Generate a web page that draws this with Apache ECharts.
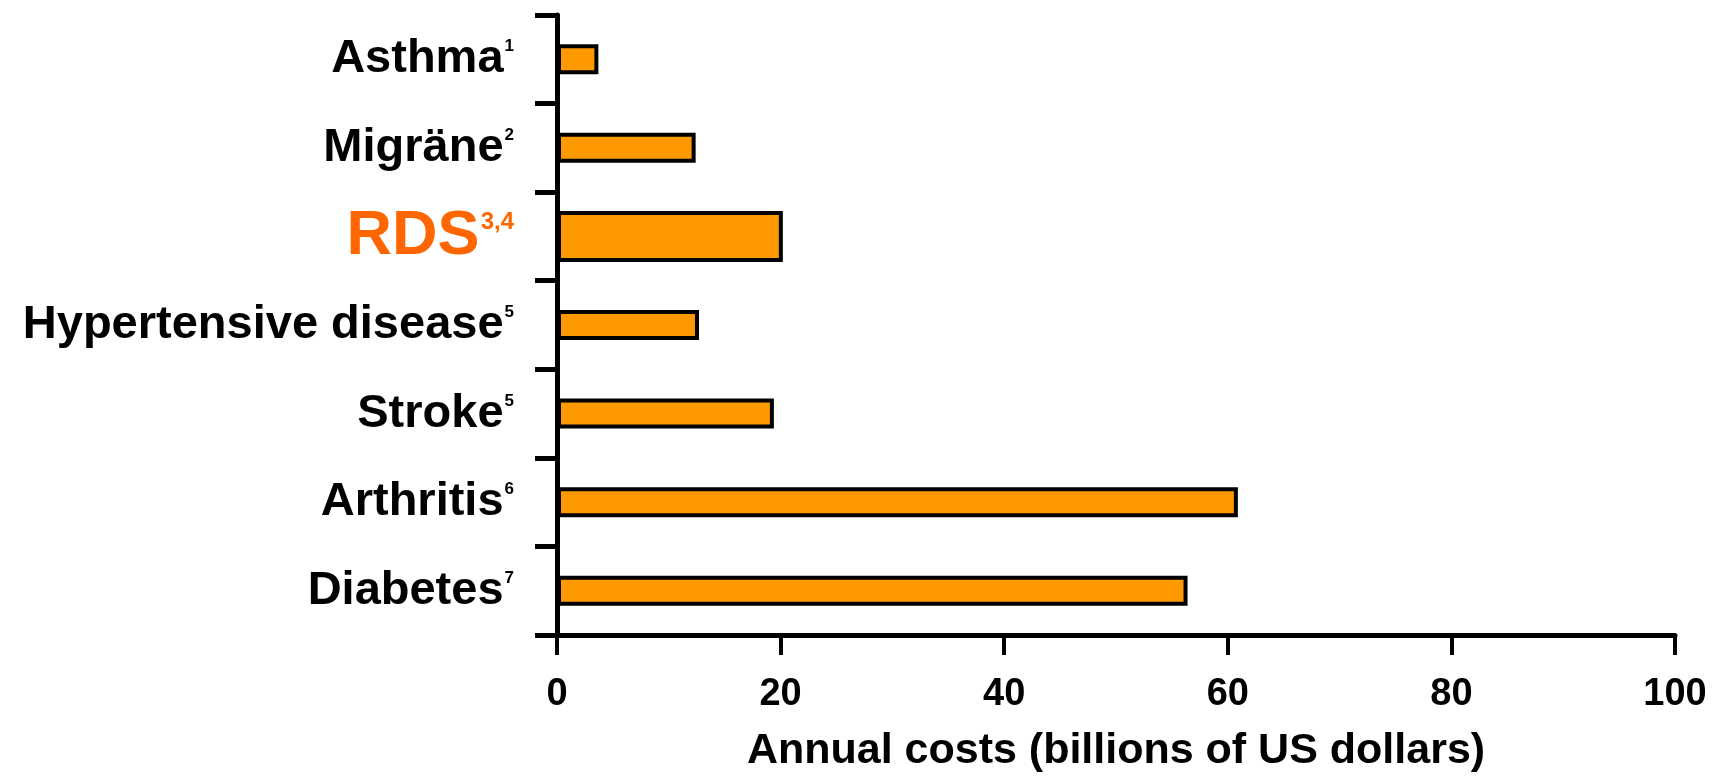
<!DOCTYPE html>
<html>
<head>
<meta charset="utf-8">
<script src="https://cdn.jsdelivr.net/npm/echarts@6/dist/echarts.min.js"></script>
<style>
html,body{margin:0;padding:0;background:#fff;}
#chart{width:1722px;height:778px;}
</style>
</head>
<body>
<div id="chart"></div>
<script>
const categories = ['Asthma', 'Migräne', 'RDS', 'Hypertensive disease', 'Stroke', 'Arthritis', 'Diabetes'];
const footnotes = ['1', '2', '3,4', '5', '5', '6', '7'];
const costs = [3.7, 12.4, 20.2, 12.7, 19.4, 60.9, 56.4];
const highlightIndex = 2;
const xTicks = [0, 20, 40, 60, 80, 100];
const xTitle = 'Annual costs (billions of US dollars)';

const normalData = costs.map((v, i) => i === highlightIndex ? '-' : v);
const highlightData = costs.map((v, i) => i === highlightIndex ? v : '-');

const FONT = 'Liberation Sans, Arial, sans-serif';
const chart = echarts.init(document.getElementById('chart'));
chart.setOption({
  animation: false,
  backgroundColor: '#fff',
  grid: { left: 557, right: 47, top: 15, bottom: 135, containLabel: false },
  xAxis: {
    type: 'value',
    min: xTicks[0],
    max: xTicks[xTicks.length - 1],
    interval: xTicks[1] - xTicks[0],
    name: xTitle,
    nameLocation: 'middle',
    nameGap: 95,
    nameTextStyle: { fontFamily: FONT, fontWeight: 'bold', fontSize: 43, color: '#000' },
    axisLine: { show: true, lineStyle: { color: '#000', width: 5 } },
    axisTick: { show: true, length: 20, lineStyle: { color: '#000', width: 4 } },
    axisLabel: { margin: 41, fontFamily: FONT, fontWeight: 'bold', fontSize: 38, color: '#000' },
    splitLine: { show: false }
  },
  yAxis: [
    {
      type: 'category',
      data: categories,
      inverse: true,
      axisLine: { show: true, lineStyle: { color: '#000', width: 5 } },
      axisTick: { show: true, length: 22, lineStyle: { color: '#000', width: 5 } },
      axisLabel: {
        margin: 43,
        formatter: function (v, i) {
          return i === highlightIndex
            ? '{r|' + v + '}{rs|' + footnotes[i] + '}'
            : '{n|' + v + '}{s|' + footnotes[i] + '}';
        },
        rich: {
          n: { fontFamily: FONT, fontWeight: 'bold', fontSize: 47, color: '#000', lineHeight: 54 },
          s: { fontFamily: FONT, fontWeight: 'bold', fontSize: 17, color: '#000', verticalAlign: 'top', lineHeight: 17, padding: [6, 0, 0, 1] },
          r: { fontFamily: FONT, fontWeight: 'bold', fontSize: 63, color: '#FF6600', lineHeight: 68 },
          rs: { fontFamily: FONT, fontWeight: 'bold', fontSize: 24, color: '#FF6600', verticalAlign: 'top', lineHeight: 24, padding: [8, 0, 0, 1] }
        }
      },
      splitLine: { show: false }
    },
    {
      type: 'category',
      data: categories,
      inverse: true,
      show: false
    }
  ],
  series: [
    {
      type: 'bar',
      yAxisIndex: 0,
      data: normalData,
      barWidth: 30,
      itemStyle: { color: '#FF9900', borderColor: '#000', borderWidth: 4 }
    },
    {
      type: 'bar',
      yAxisIndex: 1,
      data: highlightData,
      barWidth: 51,
      itemStyle: { color: '#FF9900', borderColor: '#000', borderWidth: 4 }
    }
  ]
});
</script>
</body>
</html>
